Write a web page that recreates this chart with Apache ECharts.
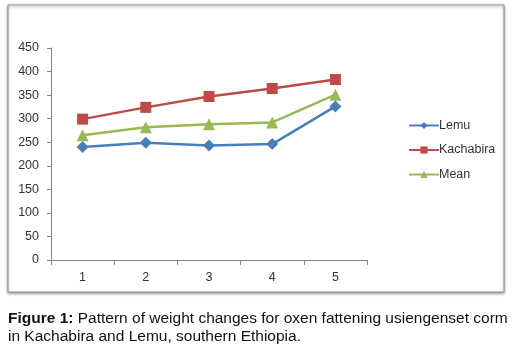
<!DOCTYPE html>
<html><head><meta charset="utf-8">
<script src="https://cdn.jsdelivr.net/npm/echarts@6/dist/echarts.min.js"></script>
<style>html,body{margin:0;padding:0;background:#fff}#c{width:519px;height:352px}</style>
</head><body><div id="c"></div>
<script>
const categories = ['1','2','3','4','5'];
const lemu = [240, 249, 243, 246, 326];
const kachabira = [299, 324, 347, 364, 383];
const mean = [265, 282, 288, 292, 351];
const yTicks = [0, 50, 100, 150, 200, 250, 300, 350, 400, 450];

const chart = echarts.init(document.getElementById('c'));
const font = 'Liberation Sans, Arial, sans-serif';
const capSize = 15.5;
chart.setOption({
  animation: false,
  graphic: [
    {type:'rect', shape:{x:8,y:5,width:496,height:287}, style:{fill:'#fff', stroke:'#9a9a9a', lineWidth:1, shadowBlur:3, shadowColor:'rgba(0,0,0,0.45)', shadowOffsetX:0, shadowOffsetY:1}, z:-10},
    {type:'text', left:8, top:311, style:{rich:{b:{fontWeight:'bold', fontSize:capSize, fontFamily:font, fill:'#111'}, n:{fontSize:capSize, fontFamily:font, fill:'#111'}}, text:'{b|Figure 1:}{n| Pattern of weight changes for oxen fattening usiengenset corm}', fontSize:capSize, fontFamily:font}},
    {type:'text', left:8, top:329, style:{text:'in Kachabira and Lemu, southern Ethiopia.', fontSize:capSize, fontFamily:font, fill:'#111'}}
  ],
  grid: {left:51, right:152, top:48, bottom:92, containLabel:false},
  legend: {
    orient:'vertical', left:403, top:114, itemWidth:30, itemHeight:9, itemGap:11.5,
    textStyle:{fontFamily:font, fontSize:12.5, color:'#333', padding:[0,0,0,-5]},
    data:['Lemu','Kachabira','Mean']
  },
  xAxis: {
    type:'category', data:categories, boundaryGap:true,
    axisLine:{lineStyle:{color:'#868686'}},
    axisTick:{show:true, length:5, lineStyle:{color:'#868686'}},
    axisLabel:{fontFamily:font, fontSize:12.5, color:'#333', margin:11}
  },
  yAxis: {
    type:'value', min:0, max:450, interval:50,
    axisLine:{show:true, lineStyle:{color:'#868686'}},
    axisTick:{show:true, length:4, lineStyle:{color:'#868686'}},
    splitLine:{show:false},
    axisLabel:{fontFamily:font, fontSize:12.5, color:'#333', margin:12,
      formatter:(v)=> yTicks.includes(v) ? String(v) : ''}
  },
  series: [
    {name:'Lemu', type:'line', data:lemu, symbol:'diamond', symbolSize:12,
      lineStyle:{color:'#4A7EBB', width:2.5}, itemStyle:{color:'#4A7EBB'}},
    {name:'Kachabira', type:'line', data:kachabira, symbol:'rect', symbolSize:11,
      lineStyle:{color:'#BE4B48', width:2.5}, itemStyle:{color:'#BE4B48'}},
    {name:'Mean', type:'line', data:mean, symbol:'triangle', symbolSize:12,
      lineStyle:{color:'#98B954', width:2.5}, itemStyle:{color:'#98B954'}}
  ]
});
</script></body></html>
